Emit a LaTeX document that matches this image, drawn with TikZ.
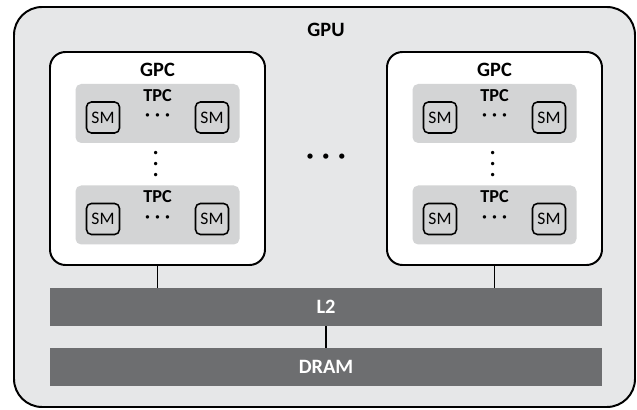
\documentclass[tikz,border=0pt]{standalone}
\usepackage{fontspec}
\setmainfont{Carlito}
\usetikzlibrary{positioning}
\definecolor{gpubg}{HTML}{E6E7E8}
\definecolor{tpcbg}{HTML}{D3D4D5}
\definecolor{bargray}{HTML}{6D6E70}
\newcommand{\rowdots}[1]{·\hspace{#1}·\hspace{#1}·}

\begin{document}
\begin{tikzpicture}[
      gpu/.style={draw, rectangle, rounded corners=20pt, line width=1.4pt,
                  fill=gpubg, minimum width=15.525cm, minimum height=10cm},
      gpc/.style={draw, rectangle, rounded corners=11pt, line width=1.4pt,
                  fill=white, minimum width=5.375cm, minimum height=5.325cm},
      tpc/.style={rectangle, rounded corners=4pt, fill=tpcbg,
                  minimum width=4.1cm, minimum height=1.475cm},
      sm/.style={draw, rectangle, rounded corners=3.5pt, line width=1.1pt,
                 minimum width=0.825cm, minimum height=0.775cm, inner sep=0pt,
                 font=\fontsize{12.5}{14}\selectfont},
      bar/.style={rectangle, fill=bargray, minimum width=13.8cm, minimum height=0.95cm,
                  text=white, font=\fontsize{14.5}{16}\selectfont\bfseries},
      title/.style={font=\fontsize{14.5}{16}\selectfont\bfseries, inner sep=0pt},
      sub/.style={font=\fontsize{13}{15}\selectfont\bfseries, inner sep=0pt},
      dots/.style={font=\fontsize{13}{15}\selectfont\bfseries, inner sep=0pt},
      link/.style={line width=1.1pt}
    ]
    \useasboundingbox (0,0) rectangle (15.925,10.25);

    \node[gpu]   (gpu)       at (8.1125, 5.075) {};
    \node[title] (gpu-label) at (8.15, 9.5)     {GPU};

    \node[bar] (l2)   at (8.15, 2.575) {L2};
    \node[bar] (dram) at (8.15, 1.075) {DRAM};

    \foreach \gx/\gn in {3.9375/L, 12.3625/R} {
      \node[gpc]   (gpc\gn)       at (\gx, 6.2875) {};
      \node[title] (gpc\gn-label) at (\gx, 8.5)    {GPC};
      \node[dots, rotate=90] (gpc\gn-vdots) at (\gx, 6.15) {\rowdots{4.3pt}};
      \foreach \ty/\tn in {7.4125/a, 4.875/b} {
        \node[tpc]  (tpc\gn\tn)       at (\gx, \ty)             {};
        \node[sub]  (tpc\gn\tn-label) at (\gx, \ty+0.45)        {TPC};
        \node[sm]   (sm\gn\tn-1)      at (\gx-1.3625, \ty-0.1)  {SM};
        \node[sm]   (sm\gn\tn-2)      at (\gx+1.3625, \ty-0.1)  {SM};
        \node[dots] (tpc\gn\tn-dots)  at (\gx, \ty-0.1)         {\rowdots{3.6pt}};
      }
    }
    \node[inner sep=0pt, font=\fontsize{20}{22}\selectfont\bfseries] (gpc-dots)
      at (8.15, 6.2575) {\rowdots{5.9pt}};

    \draw[link] (gpcL.south) -- (gpcL.south |- l2.north);
    \draw[link] (gpcR.south) -- (gpcR.south |- l2.north);
    \draw[link] (l2) -- (dram);
\end{tikzpicture}
\end{document}
